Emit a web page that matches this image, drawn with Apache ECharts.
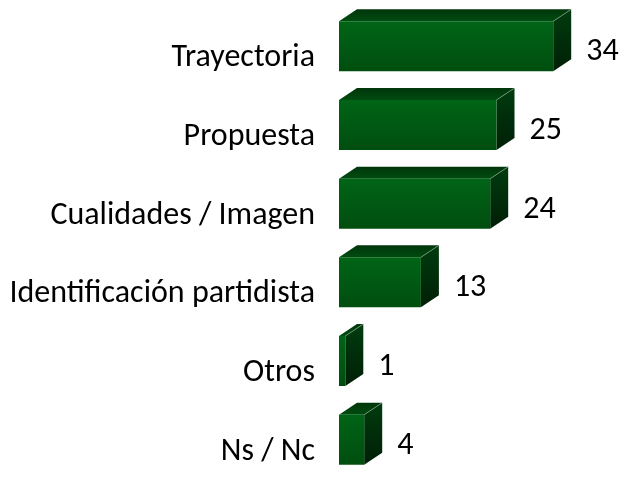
<!DOCTYPE html>
<html><head><meta charset="utf-8">
<script src="https://cdn.jsdelivr.net/npm/echarts@6/dist/echarts.min.js"></script>
<style>html,body{margin:0;padding:0;background:#fff}#c{width:630px;height:479px}</style>
</head><body><div id="c"></div>
<script>
const categories = ['Trayectoria', 'Propuesta', 'Cualidades / Imagen', 'Identificación partidista', 'Otros', 'Ns / Nc'];
const values = [34, 25, 24, 13, 1, 4];

const FONT = "Carlito, Calibri, 'Open Sans', sans-serif";
const FS = 32;
const DX = 18, DY = 12;
const chart = echarts.init(document.getElementById('c'), null, {renderer: 'canvas'});

function grad(stops) {
  return new echarts.graphic.LinearGradient(0, 0, 0, 1, stops.map((c, i) => ({offset: i / (stops.length - 1), color: c})));
}

function renderItem(params, api) {
  const v = api.value(0), cat = api.value(1);
  const p0 = api.coord([0, cat]);
  const p1 = api.coord([v, cat]);
  const bandH = api.size([0, 1])[1];
  const h = bandH * 0.635;
  const x0 = p0[0], x1 = p1[0], yc = p0[1];
  const yt = yc - h / 2, yb = yc + h / 2;
  return {
    type: 'group',
    children: [
      {type: 'polygon', shape: {points: [[x0, yt], [x0 + DX, yt - DY], [x1 + DX, yt - DY], [x1, yt]]},
        style: {fill: grad(['#00350b', '#004c10'])}},
      {type: 'polygon', shape: {points: [[x1, yt], [x1 + DX, yt - DY], [x1 + DX, yb - DY], [x1, yb]]},
        style: {fill: grad(['#003c0e', '#001f06'])}},
      {type: 'rect', shape: {x: x0, y: yt, width: x1 - x0, height: h},
        style: {fill: grad(['#006416', '#004e0f'])}},
      {type: 'line', shape: {x1: x1, y1: yt, x2: x1 + DX, y2: yt - DY},
        style: {stroke: 'rgba(150,170,150,0.6)', lineWidth: 1}},
      {type: 'text', x: x1 + DX + 15, y: yc + 6,
        style: {text: String(v), font: FS + 'px ' + FONT, fill: '#000', verticalAlign: 'middle', align: 'left'}}
    ]
  };
}

chart.setOption({
  animation: false,
  backgroundColor: '#fff',
  grid: {left: 339, width: 252, top: 7, height: 482},
  xAxis: {type: 'value', min: 0, max: 40, show: false},
  yAxis: {
    type: 'category', data: categories, inverse: true,
    axisLine: {show: false}, axisTick: {show: false}, splitLine: {show: false},
    axisLabel: {fontFamily: FONT, fontSize: FS, color: '#000', margin: 24, verticalAlign: 'top', lineHeight: 24}
  },
  series: [{
    type: 'custom',
    renderItem: renderItem,
    encode: {x: 0, y: 1},
    data: values.map((v, i) => [v, i])
  }]
});
</script>
</body></html>
